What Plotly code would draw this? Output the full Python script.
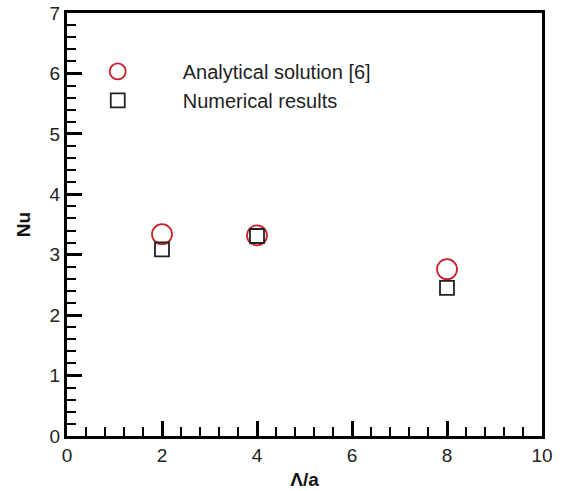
import plotly.graph_objects as go

# Nusselt number versus wavelength ratio
lam_a = [2, 4, 8]
nu_analytical = [3.34, 3.32, 2.76]
nu_numerical = [3.09, 3.31, 2.45]

x_ticks = [0, 2, 4, 6, 8, 10]
y_ticks = [0, 1, 2, 3, 4, 5, 6, 7]

FONT = "Liberation Sans, Arial, sans-serif"

fig = go.Figure()
fig.add_trace(go.Scatter(
    x=lam_a, y=nu_analytical, mode="markers", name="Analytical solution [6]",
    legendgroup="a",
    marker=dict(symbol="circle-open", size=20, color="#c8202a",
                line=dict(width=1.8, color="#c8202a")),
))
fig.add_trace(go.Scatter(
    x=lam_a, y=nu_numerical, mode="markers", name="Numerical results",
    legendgroup="b",
    marker=dict(symbol="square-open", size=14, color="#222222",
                line=dict(width=1.8, color="#222222")),
))

axis_common = dict(
    showgrid=False, zeroline=False, showline=True, linewidth=3,
    linecolor="black", mirror=True, ticks="inside", tickwidth=3,
    tickcolor="black", ticklen=15, automargin=False,
    tickfont=dict(family=FONT, size=19, color="#222222"),
)

fig.update_layout(
    width=562, height=491,
    margin=dict(l=67, r=20, t=13, b=55),
    paper_bgcolor="white", plot_bgcolor="white",
    xaxis=dict(range=[0, 10], tickvals=x_ticks,
               minor=dict(dtick=0.4, ticks="inside", ticklen=9, tickwidth=1.5,
                          tickcolor="black"),
               title=dict(text="<b>Λ/a</b>", standoff=8,
                          font=dict(family=FONT, size=19, color="#111111")),
               **axis_common),
    yaxis=dict(range=[0, 7], tickvals=y_ticks,
               minor=dict(dtick=0.2, ticks="inside", ticklen=9, tickwidth=1.5,
                          tickcolor="black"),
               title=dict(text="<b>Nu</b>", standoff=14,
                          font=dict(family=FONT, size=19, color="#111111")),
               **axis_common),
    showlegend=True,
    legend=dict(x=-0.03, y=0.908, xanchor="left", yanchor="top",
                bgcolor="rgba(0,0,0,0)", itemwidth=120, tracegroupgap=0,
                font=dict(family=FONT, size=20, color="#222222")),
)

fig.write_html("out.html")
